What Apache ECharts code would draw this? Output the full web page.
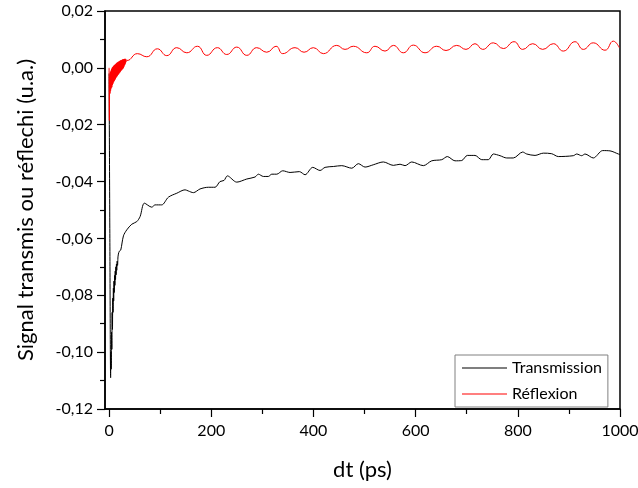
<!DOCTYPE html>
<html>
<head>
<meta charset="utf-8">
<script src="https://cdn.jsdelivr.net/npm/echarts/dist/echarts.min.js"></script>
<style>html,body{margin:0;padding:0;background:#fff;overflow:hidden;}#c{width:638px;height:488px;}</style>
</head>
<body>
<div id="c"></div>
<script>
// ---- data (t in ps, value in u.a.) ----
var transmission = [
  [0, -0.002], [1.5, -0.060], [3.0, -0.1090], [3.6, -0.1000], [4.2, -0.1060], [4.8, -0.0930],
  [5.4, -0.0990], [6.0, -0.0860], [6.6, -0.0920], [7.2, -0.0810], [7.8, -0.0860], [8.4, -0.0775],
  [9.0, -0.0820], [9.6, -0.0750], [10.2, -0.0790], [10.8, -0.0730], [11.4, -0.0765], [12.0, -0.0715],
  [12.6, -0.0745], [13.2, -0.0700], [13.8, -0.0728], [14.4, -0.0690], [15.0, -0.0712], [15.8, -0.0680],
  [16.6, -0.0695], [17.4, -0.0665], [18.2, -0.0655], [20.0, -0.0645], [22.8, -0.0641], [28.1, -0.0591],
  [34.6, -0.0570], [44.4, -0.0550], [54.1, -0.0541], [60.7, -0.0523], [69.2, -0.0476], [83.5, -0.0490],
  [90, -0.0482], [103, -0.0482], [116, -0.0455], [132.5, -0.0441], [148.7, -0.0429], [155, -0.0433],
  [165, -0.0439], [178, -0.0426], [194.3, -0.0420], [207.4, -0.0420], [217, -0.0400], [225, -0.0396],
  [231.5, -0.0380], [249.9, -0.0402], [269.5, -0.0391], [285.7, -0.0384], [292.2, -0.0374], [302, -0.0382],
  [311.7, -0.0382], [318.4, -0.0374], [328.2, -0.0374], [339.9, -0.0362], [354.2, -0.0368], [372.4, -0.0365],
  [383.6, -0.0376], [398.6, -0.0350], [412.9, -0.0361], [422.7, -0.0350], [438.9, -0.0347], [455.4, -0.0344],
  [475, -0.0353], [487.9, -0.0337], [501, -0.0349], [517, -0.0341], [536.8, -0.0331], [556.4, -0.0343],
  [569.5, -0.0339], [579.3, -0.0344], [592.4, -0.0331], [615.1, -0.0344], [631.5, -0.0327], [651.1, -0.0323],
  [662, -0.0312], [677, -0.0327], [690.2, -0.0326], [701.2, -0.0308], [716.2, -0.0308], [729.4, -0.0323],
  [742.3, -0.0323], [752.1, -0.0303], [765.2, -0.0309], [778.3, -0.0317], [791.2, -0.0317], [809.6, -0.0296],
  [817.4, -0.0303], [833.7, -0.0308], [849.9, -0.0300], [866.3, -0.0302], [879.3, -0.0312], [908.6, -0.0309],
  [915.3, -0.0303], [925, -0.0309], [931.5, -0.0303], [947.7, -0.0317], [966.1, -0.0291], [980.4, -0.0292],
  [996.7, -0.0303], [1000, -0.0305]
];
var reflexion = [
  [0, 0.0000], [0.6, -0.0185], [1.2, -0.0030], [1.8, -0.0090], [2.4, -0.0015], [3.0, -0.0080],
  [3.6, -0.0010], [4.2, -0.0072], [4.8, -0.0005], [5.4, -0.0068], [6.0, 0.0000], [6.6, -0.0060],
  [7.2, 0.0003], [7.8, -0.0055], [8.4, 0.0006], [9.0, -0.0050], [9.6, 0.0008], [10.2, -0.0046],
  [10.8, 0.0010], [11.4, -0.0042], [12.0, 0.0012], [12.6, -0.0038], [13.2, 0.0014], [13.8, -0.0034],
  [14.4, 0.0016], [15.0, -0.0031], [15.6, 0.0018], [16.2, -0.0028], [16.8, 0.0019], [17.4, -0.0025],
  [18.0, 0.0021], [18.6, -0.0022], [19.2, 0.0022], [19.8, -0.0019], [20.4, 0.0024], [21.0, -0.0016],
  [21.6, 0.0025], [22.2, -0.0013], [22.8, 0.0026], [23.4, -0.0010], [24.0, 0.0027], [24.6, -0.0008],
  [25.2, 0.0028], [25.8, -0.0005], [26.4, 0.0029], [27.0, -0.0003], [27.6, 0.0030], [28.2, 0.0000],
  [28.8, 0.0031], [29.4, 0.0005], [30.0, 0.0031], [30.6, 0.0010], [31.2, 0.0032], [31.8, 0.0015],
  [32.4, 0.0030], [33.0, 0.0020], [34.0, 0.0028], [35.2, 0.0026],
  [55.4, 0.0050], [73.8, 0.0039], [94.5, 0.0067], [112.9, 0.0043], [132.5, 0.0071], [152.1, 0.0053],
  [172.8, 0.0076], [191.2, 0.0044], [211.9, 0.0071], [230.3, 0.0047], [249.9, 0.0073], [269.5, 0.0044],
  [289.0, 0.0071], [308.6, 0.0055], [326.8, 0.0076], [339.9, 0.0050], [364.0, 0.0071], [381.6, 0.0055],
  [399.8, 0.0071], [419.4, 0.0050], [445.6, 0.0079], [461.8, 0.0065], [478.1, 0.0076], [504.3, 0.0053],
  [520.5, 0.0076], [540.1, 0.0059], [556.4, 0.0079], [575.9, 0.0053], [595.5, 0.0080], [618.4, 0.0053],
  [641.3, 0.0076], [659.5, 0.0061], [680.4, 0.0079], [698.6, 0.0065], [716.2, 0.0085], [731.3, 0.0065],
  [752.1, 0.0088], [771.6, 0.0068], [792.6, 0.0092], [809.6, 0.0065], [829.2, 0.0085], [848.7, 0.0065],
  [869.5, 0.0085], [889.0, 0.0059], [911.9, 0.0092], [928.2, 0.0065], [947.7, 0.0088], [970.6, 0.0062],
  [986.9, 0.0094], [998.6, 0.0071]
];
var xMajorTicks = [0, 200, 400, 600, 800, 1000];
var xMinorTicks = [100, 300, 500, 700, 900];
var seriesNames = ['Transmission', 'Réflexion'];
var xTitle = 'dt (ps)';
var yTitle = 'Signal transmis ou réflechi (u.a.)';

var FONT = 'Lato';
var chart = echarts.init(document.getElementById('c'), null, {renderer: 'canvas', width: 638, height: 488});
function fmtY(v) {
  if (Math.abs(v) < 1e-9) v = 0;
  return v.toFixed(2).replace('.', ',');
}
chart.setOption({
  animation: false,
  backgroundColor: '#fff',
  grid: {left: 105, right: 18, top: 11, bottom: 79, show: true, borderColor: '#000', borderWidth: 1.5,
    backgroundColor: 'transparent', containLabel: false, outerBoundsMode: 'none'},
  legend: {
    data: seriesNames,
    orient: 'vertical',
    left: 455, top: 355,
    padding: [5, 6, 5, 7],
    itemWidth: 45, itemHeight: 1, itemGap: 10,
    icon: 'rect',
    borderColor: '#808080', borderWidth: 1,
    backgroundColor: '#fff',
    textStyle: {fontFamily: FONT, fontSize: 16, color: '#000'}
  },
  xAxis: [{
    type: 'value', min: -8, max: 1000,
    name: xTitle, nameLocation: 'middle', nameGap: 50,
    nameTextStyle: {fontFamily: FONT, fontSize: 22, color: '#000'},
    axisLine: {show: true, onZero: false, lineStyle: {color: '#000', width: 1.5}},
    axisTick: {show: true, inside: false, length: 8, customValues: xMajorTicks, lineStyle: {color: '#000', width: 1.2}},
    axisLabel: {show: true, customValues: xMajorTicks, margin: 14, fontFamily: FONT, fontSize: 16, color: '#000',
      formatter: function (v) { return String(v); }},
    splitLine: {show: false}
  }, {
    type: 'value', min: -8, max: 1000, position: 'bottom',
    axisLine: {show: false, onZero: false},
    axisTick: {show: true, inside: false, length: 5, customValues: xMinorTicks, lineStyle: {color: '#000', width: 1.2}},
    axisLabel: {show: false},
    splitLine: {show: false}
  }],
  yAxis: {
    type: 'value', min: -0.12, max: 0.02, interval: 0.02,
    name: yTitle, nameLocation: 'middle', nameGap: 68, nameRotate: 90,
    nameTextStyle: {fontFamily: FONT, fontSize: 22, color: '#000'},
    axisLine: {show: true, onZero: false, lineStyle: {color: '#000', width: 1.5}},
    axisTick: {show: true, inside: false, length: 8, lineStyle: {color: '#000', width: 1.2}},
    minorTick: {show: true, splitNumber: 2, length: 5, lineStyle: {color: '#000', width: 1.2}},
    axisLabel: {formatter: fmtY, margin: 12, fontFamily: FONT, fontSize: 16, color: '#000'},
    splitLine: {show: false}
  },
  series: [{
    name: seriesNames[0], type: 'line', data: transmission, xAxisIndex: 0,
    showSymbol: false, smooth: 0.3,
    lineStyle: {color: '#000', width: 1}, itemStyle: {color: '#000'}
  }, {
    name: seriesNames[1], type: 'line', data: reflexion, xAxisIndex: 0,
    showSymbol: false, smooth: 0.5,
    lineStyle: {color: '#ff0000', width: 1}, itemStyle: {color: '#ff0000'}
  }]
});
</script>
</body>
</html>
